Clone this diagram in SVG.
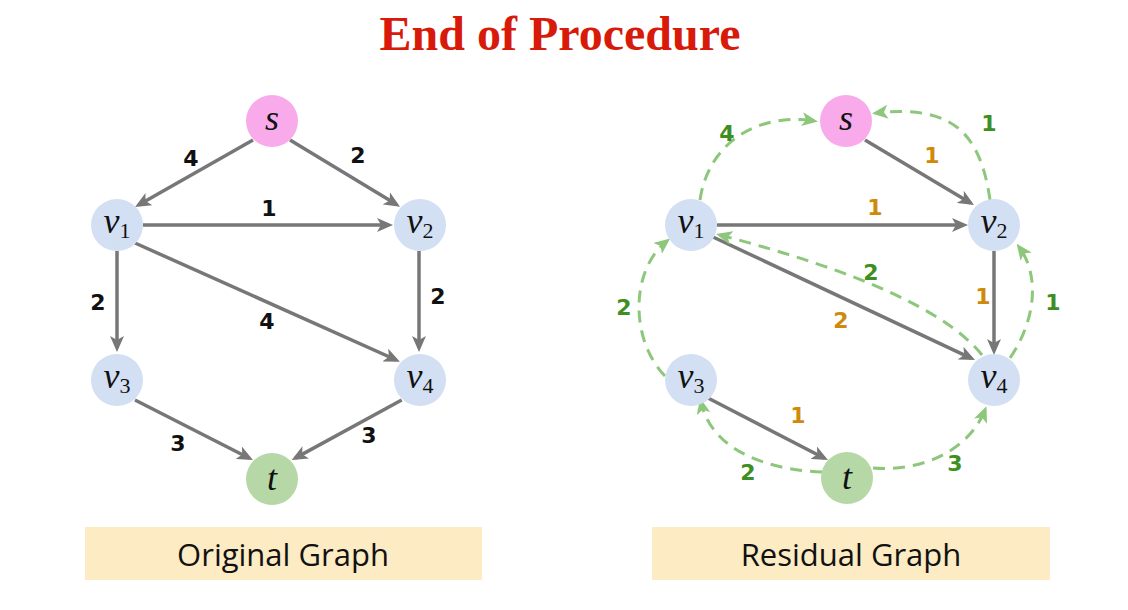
<svg xmlns="http://www.w3.org/2000/svg" width="1128" height="610" viewBox="0 0 1128 610">
<style>
.title{font-family:"Liberation Serif",serif;font-weight:bold;font-size:48px;fill:#d81a0a}
.cap{font-family:"Open Sans","Liberation Sans",sans-serif;font-size:31px;fill:#111}
.box{fill:#fdebc3}
.nl{font-family:"Liberation Serif","DejaVu Serif",serif;font-style:italic;font-size:36px;fill:#111}
.sub{font-style:normal;font-size:22px}
.el{font-family:"DejaVu Sans",sans-serif;font-weight:bold;font-size:22px;text-anchor:middle}
.blk{fill:#111}
.org{fill:#cf8a0c}
.grn{fill:#3d8f22}
.e{stroke:#777;stroke-width:3.5;fill:none;marker-end:url(#ag)}
.r{stroke:#8dc77b;stroke-width:3;fill:none;stroke-dasharray:12 8;marker-end:url(#ar)}
.ns{fill:#f8aaea}
.nv{fill:#d3dff3}
.nt{fill:#b5d8a6}
</style>
<defs>
<marker id="ag" markerUnits="userSpaceOnUse" viewBox="0 0 16 14" refX="12" refY="7" markerWidth="16" markerHeight="14" orient="auto">
<path d="M0,0 L16,7 L0,14 L4,7 z" fill="#777"/>
</marker>
<marker id="ar" markerUnits="userSpaceOnUse" viewBox="0 0 16 14" refX="12" refY="7" markerWidth="16" markerHeight="14" orient="auto">
<path d="M0,0 L16,7 L0,14 L4,7 z" fill="#8dc77b"/>
</marker>
</defs>
<rect width="1128" height="610" fill="#fff"/>
<text class="title" x="560" y="50" text-anchor="middle">End of Procedure</text>

<g id="connectors">
<path class="e" d="M253,140 L138.5,205"/>
<path class="e" d="M290,140 L396.6,204.6"/>
<path class="e" d="M143,225 L389,225"/>
<path class="e" d="M117,251 L117,348"/>
<path class="e" d="M419,251 L419,348"/>
<path class="e" d="M135,243 L396.3,360"/>
<path class="e" d="M135,400 L249.4,458.2"/>
<path class="e" d="M401.7,400 L295.2,458.1"/>
<path class="e" d="M865,140 L970.6,203"/>
<path class="e" d="M717,225 L964,225"/>
<path class="e" d="M994,251 L994,351"/>
<path class="e" d="M713,237 L971.4,358.3"/>
<path class="e" d="M708,398 L824.4,458.2"/>
<path class="r" d="M700,200 C708,145 755,112 814,121"/>
<path class="r" d="M990,200 C980,130 950,105 876,113"/>
<path class="r" d="M982,355 Q930,290 720,235"/>
<path class="r" d="M1010,358 C1036,320 1040,275 1019,247"/>
<path class="r" d="M665,376 C630,340 630,270 667,241"/>
<path class="r" d="M822,472 C770,470 712,452 701,402"/>
<path class="r" d="M873,468 C920,472 968,452 985,410"/>
</g>

<g id="edge-labels">
<text class="el blk" x="191" y="166">4</text>
<text class="el blk" x="358" y="163">2</text>
<text class="el blk" x="269" y="216">1</text>
<text class="el blk" x="98" y="310">2</text>
<text class="el blk" x="438" y="304">2</text>
<text class="el blk" x="267" y="329">4</text>
<text class="el blk" x="178" y="451">3</text>
<text class="el blk" x="369" y="443">3</text>
<text class="el org" x="932" y="163">1</text>
<text class="el org" x="875" y="215">1</text>
<text class="el org" x="983" y="304">1</text>
<text class="el org" x="841" y="328">2</text>
<text class="el org" x="798" y="423">1</text>
<text class="el grn" x="727" y="141">4</text>
<text class="el grn" x="989" y="131">1</text>
<text class="el grn" x="871" y="280">2</text>
<text class="el grn" x="1053" y="310">1</text>
<text class="el grn" x="624" y="315">2</text>
<text class="el grn" x="748" y="480">2</text>
<text class="el grn" x="955" y="471">3</text>
</g>

<g id="L-s"><circle class="ns" cx="272" cy="121" r="26"/><text class="nl" x="272" y="130" text-anchor="middle">s</text></g>
<g id="L-v1"><circle class="nv" cx="117" cy="225" r="26"/><text class="nl" x="117" y="233" text-anchor="middle">v<tspan class="sub" dy="5">1</tspan></text></g>
<g id="L-v2"><circle class="nv" cx="420" cy="225" r="26"/><text class="nl" x="420" y="233" text-anchor="middle">v<tspan class="sub" dy="5">2</tspan></text></g>
<g id="L-v3"><circle class="nv" cx="117" cy="380" r="26"/><text class="nl" x="117" y="388" text-anchor="middle">v<tspan class="sub" dy="5">3</tspan></text></g>
<g id="L-v4"><circle class="nv" cx="420" cy="380" r="26"/><text class="nl" x="420" y="388" text-anchor="middle">v<tspan class="sub" dy="5">4</tspan></text></g>
<g id="L-t"><circle class="nt" cx="272" cy="479" r="26"/><text class="nl" x="272" y="490" text-anchor="middle">t</text></g>

<g id="R-s"><circle class="ns" cx="846" cy="121" r="26"/><text class="nl" x="846" y="130" text-anchor="middle">s</text></g>
<g id="R-v1"><circle class="nv" cx="691" cy="225" r="26"/><text class="nl" x="691" y="233" text-anchor="middle">v<tspan class="sub" dy="5">1</tspan></text></g>
<g id="R-v2"><circle class="nv" cx="994" cy="225" r="26"/><text class="nl" x="994" y="233" text-anchor="middle">v<tspan class="sub" dy="5">2</tspan></text></g>
<g id="R-v3"><circle class="nv" cx="691" cy="380" r="26"/><text class="nl" x="691" y="388" text-anchor="middle">v<tspan class="sub" dy="5">3</tspan></text></g>
<g id="R-v4"><circle class="nv" cx="994" cy="380" r="26"/><text class="nl" x="994" y="388" text-anchor="middle">v<tspan class="sub" dy="5">4</tspan></text></g>
<g id="R-t"><circle class="nt" cx="847" cy="478" r="26"/><text class="nl" x="847" y="489" text-anchor="middle">t</text></g>

<g id="cap-original"><rect class="box" x="85" y="527" width="397" height="53"/><text class="cap" x="283" y="566" text-anchor="middle">Original Graph</text></g>
<g id="cap-residual"><rect class="box" x="652" y="527" width="398" height="53"/><text class="cap" x="851" y="566" text-anchor="middle">Residual Graph</text></g>
</svg>
